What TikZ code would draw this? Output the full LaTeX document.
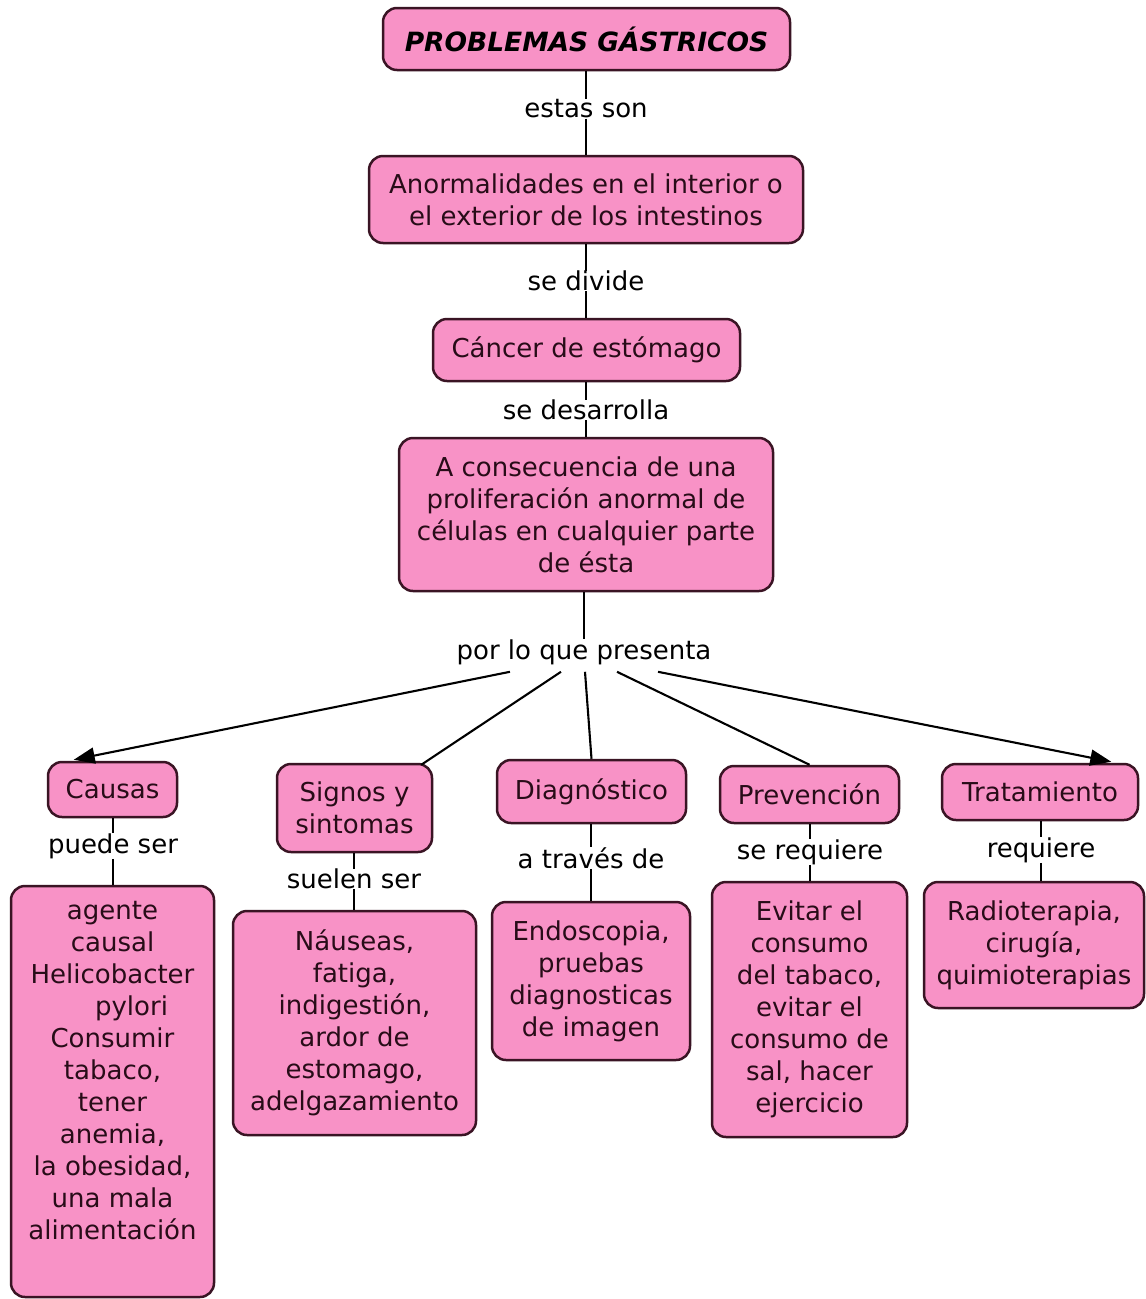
\documentclass[tikz,border=0pt]{standalone}
\usepackage{fontspec}
\setmainfont{DejaVu Sans}
\usetikzlibrary{arrows.meta,calc}
\definecolor{pinkfill}{RGB}{248,146,198}
\definecolor{edgecol}{RGB}{58,20,36}
\definecolor{txtcol}{RGB}{40,12,24}
\begin{document}
\begin{tikzpicture}[x=1pt,y=-1pt,
  box/.style={draw=edgecol, line width=2.5pt, fill=pinkfill, rounded corners=14pt, align=center,
    font=\fontsize{26}{32}\selectfont, text=txtcol, inner sep=0pt},
  lab/.style={font=\fontsize{26}{32}\selectfont, inner sep=0pt, text=black},
  con/.style={draw=black, line width=2.1pt},
  arr/.style={con, -{Triangle[length=21pt,width=16pt]}}]
\useasboundingbox[fill=white] (0,0) rectangle (1146,1299);
% nodes
\node[box, minimum width=407, minimum height=62, text=black,
  font=\fontsize{26.5}{32}\selectfont\bfseries\itshape] (title) at (586.5,39) {PROBLEMAS GÁSTRICOS};
\node[box, minimum width=434, minimum height=87] (anorm) at (586,199.5) {Anormalidades en el interior o\\el exterior de los intestinos};
\node[box, minimum width=307, minimum height=62] (cancer) at (586.5,350) {Cáncer de estómago};
\node[box, minimum width=374, minimum height=153] (conse) at (586,514.5) {A consecuencia de una\\proliferación anormal de\\células en cualquier parte\\de ésta};
\node[box, minimum width=129, minimum height=55] (causas) at (112.5,789.5) {Causas};
\node[box, minimum width=155, minimum height=88] (signos) at (354.5,808) {Signos y\\sintomas};
\node[box, minimum width=189, minimum height=63] (diag) at (591.5,791.5) {Diagnóstico};
\node[box, minimum width=179, minimum height=57] (prev) at (809.5,794.5) {Prevención};
\node[box, minimum width=196, minimum height=56] (trat) at (1040,792) {Tratamiento};
\node[box, minimum width=203, minimum height=411] (agente) at (112.5,1091.5) {agente\\causal\\Helicobacter\\\hspace*{38pt}pylori\\Consumir\\tabaco,\\tener\\anemia,\\la obesidad,\\una mala\\alimentación\\\strut};
\node[box, minimum width=243, minimum height=224] (nause) at (354.5,1023) {Náuseas,\\fatiga,\\indigestión,\\ardor de\\estomago,\\adelgazamiento};
\node[box, minimum width=198, minimum height=158] (endo) at (591,981) {Endoscopia,\\pruebas\\diagnosticas\\de imagen};
\node[box, minimum width=195, minimum height=255] (evitar) at (809.5,1009.5) {Evitar el\\consumo\\del tabaco,\\evitar el\\consumo de\\sal, hacer\\ejercicio};
\node[box, minimum width=220, minimum height=126] (radio) at (1034,945) {Radioterapia,\\cirugía,\\quimioterapias};
% labels
\node[lab] (l1) at (586,109) {estas son};
\node[lab] (l2) at (586,281) {se divide};
\node[lab] (l3) at (586,410) {se desarrolla};
\node[lab] (l4) at (584,652) {por lo que presenta};
\node[lab] (l5) at (113,846) {puede ser};
\node[lab] (l6) at (354,879) {suelen ser};
\node[lab] (l7) at (591,858) {a través de};
\node[lab] (l8) at (810,852) {se requiere};
\node[lab] (l9) at (1041,850) {requiere};
% vertical connectors
\draw[con] (l1.north |- title.south) -- (l1.north);
\draw[con] (l1.south) -- (l1.south |- anorm.north);
\draw[con] (l2.north |- anorm.south) -- (l2.north);
\draw[con] (l2.south) -- (l2.south |- cancer.north);
\draw[con] (l3.north |- cancer.south) -- (l3.north);
\draw[con] (l3.south) -- (l3.south |- conse.north);
\draw[con] (l4.north |- conse.south) -- (l4.north);
\draw[con] (l5.north |- causas.south) -- (l5.north);
\draw[con] (l5.south) -- (l5.south |- agente.north);
\draw[con] (l6.north |- signos.south) -- (l6.north);
\draw[con] (l6.south) -- (l6.south |- nause.north);
\draw[con] (l7.north |- diag.south) -- (l7.north);
\draw[con] (l7.south) -- (l7.south |- endo.north);
\draw[con] (l8.north |- prev.south) -- (l8.north);
\draw[con] (l8.south) -- (l8.south |- evitar.north);
\draw[con] (l9.north |- trat.south) -- (l9.north);
\draw[con] (l9.south) -- (l9.south |- radio.north);
% fan from "por lo que presenta"
\draw[arr] ($(l4.south)+(-74,7)$) -- ($(causas.north west)+(27,-1)$);
\draw[con] ($(l4.south)+(-23,7)$) -- ($(signos.north east)+(-12,2)$);
\draw[con] ($(l4.south)+(1,7)$) -- (diag.north);
\draw[con] ($(l4.south)+(33,7)$) -- (prev.north);
\draw[arr] ($(l4.south)+(74,7)$) -- ($(trat.north east)+(-28,-1)$);
\end{tikzpicture}
\end{document}
